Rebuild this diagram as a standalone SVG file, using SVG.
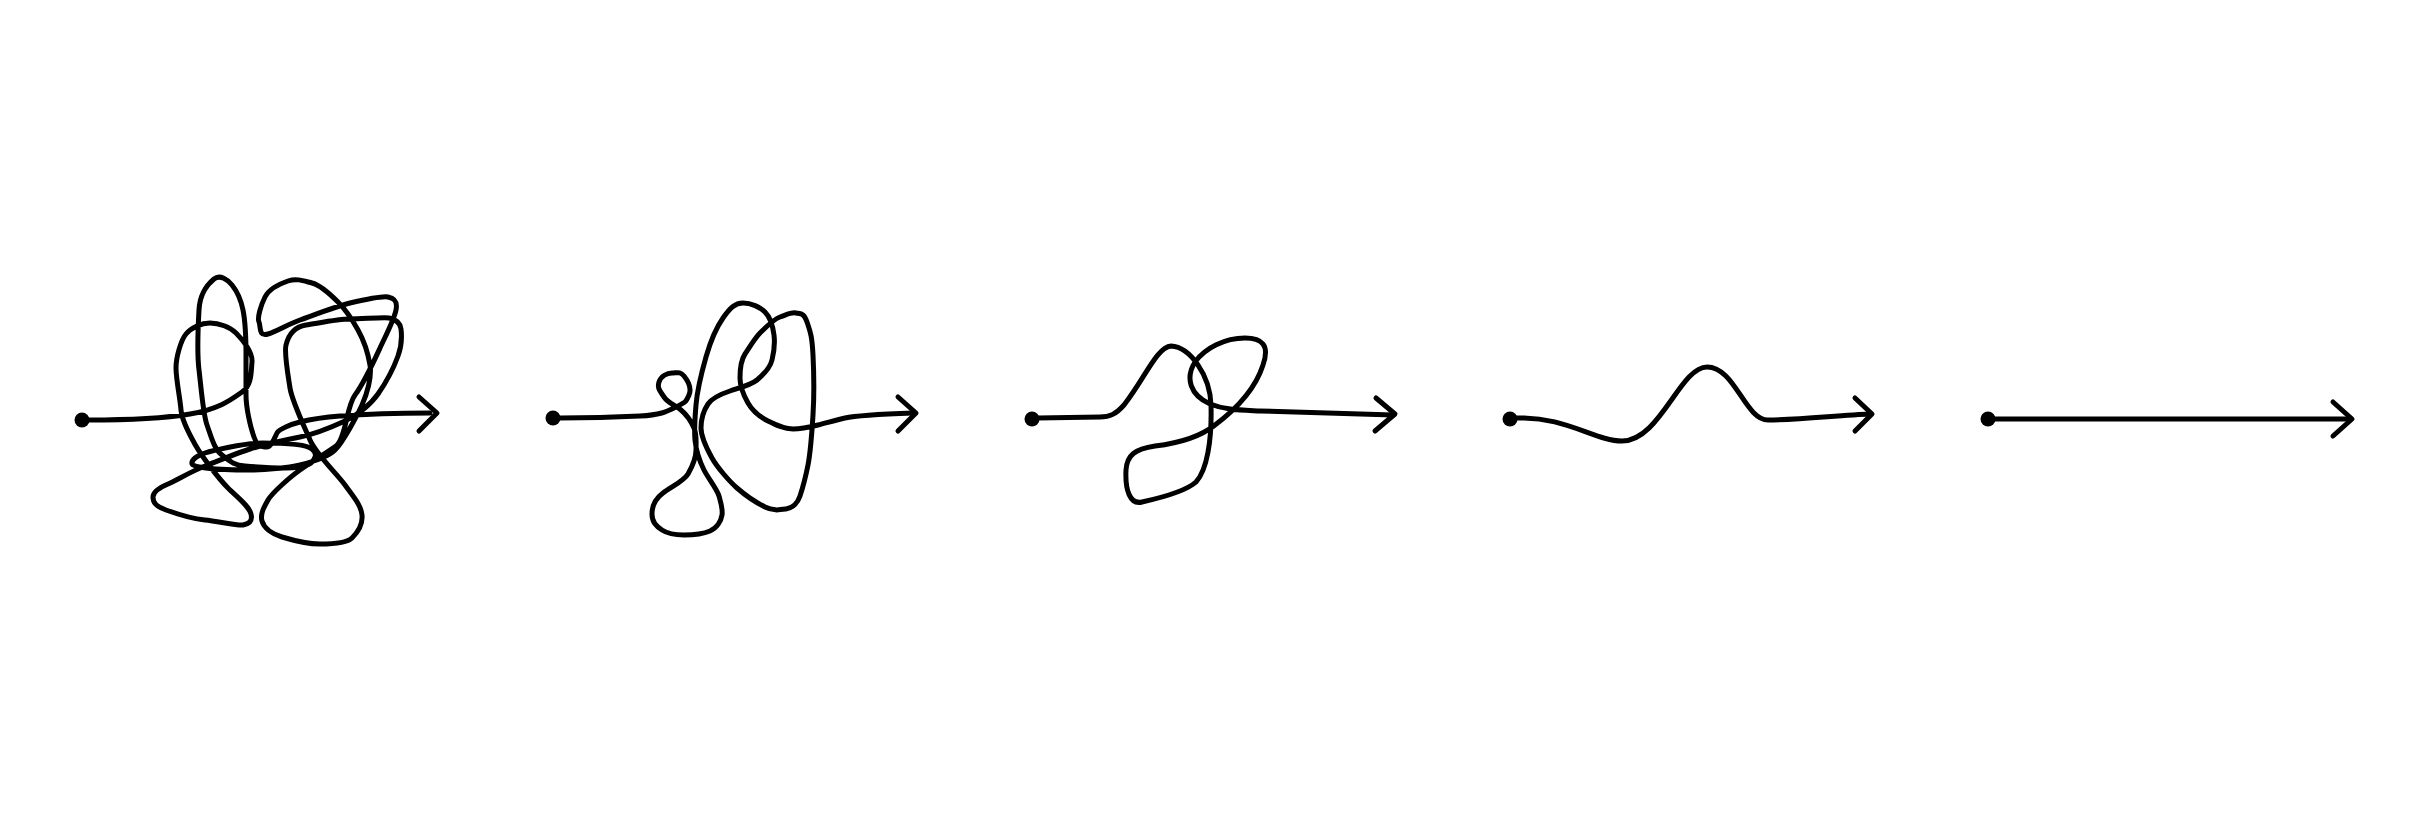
<svg xmlns="http://www.w3.org/2000/svg" width="2436" height="813" viewBox="0 0 2436 813">
<style>
.ln{fill:none;stroke:#000;stroke-width:5;stroke-linecap:round;stroke-linejoin:round}
.dot{fill:#000}
</style>
<rect width="2436" height="813" fill="#fff"/>
<g id="path-tangled">
<circle class="dot" cx="82" cy="420" r="7.5"/>
<path class="ln" d="M88,420 C125,420 160,419 190,414 S232,399 242,392 S251,372 252,362 S242,339 236,333 S219,323 210,323 S191,328 186,334 S176,357 176,368 S180,398 181,410 S191,437 196,446 S218,478 228,488 S249,506 251,514 S248,524 243,525 S217,521 205,520 S177,514 166,510 S153,502 153,497 S161,487 168,484 S194,470 205,466 S237,453 250,449 S285,440 300,437 S332,427 345,421 S371,404 378,394 S394,367 398,356 S402,337 401,329 S394,319 389,318 S362,319 350,319 S319,323 306,325 S288,337 286,345 S288,375 290,388 S304,426 310,440 S337,474 345,485 S361,505 362,515 S357,533 352,538 S330,544 320,544 S292,540 282,537 S264,528 262,521 S264,507 268,500 S290,477 300,470 S326,453 336,446 S346,407 355,395 S374,361 380,348 S394,320 396,310 S393,298 388,297 S363,300 350,303 S314,315 300,320 S278,331 268,334 S261,326 259,322 S261,305 265,297 S279,284 288,281 S304,281 312,283 S332,296 338,302 S353,321 358,330 S368,353 370,365 S367,394 362,405 S343,442 335,450 S312,462 300,465 S265,470 250,470 S193,469 192,464 S199,455 205,453 S244,443 262,443 S306,444 312,449 S315,458 312,462 S294,468 285,468 S257,467 245,466 S230,461 222,455 S211,436 207,425 S201,386 199,370 S198,328 199,310 S208,284 214,279 S228,280 232,285 S241,300 243,310 S246,340 246,355 S246,383 246,395 S250,426 254,437 S261,446 266,447 S275,437 277,433 S292,424 300,422 S327,417 340,416 S390,413 430,413"/>
<polyline class="ln" points="419,397 437,413 419,431"/>
</g>
<g id="path-loops">
<circle class="dot" cx="553" cy="418" r="7.5"/>
<path class="ln" d="M560,418 C590,418 620,417 640,416 S666,412 676,407 S686,402 689,395 S688,381 684,376 S677,373 672,373 S661,376 659,382 S660,391 664,397 S675,405 681,410 S691,421 694,428 S696,443 696,450 S692,467 688,474 S671,487 663,493 S652,506 652,514 S656,526 662,530 S676,535 684,535 S703,534 710,531 S721,521 722,515 S721,503 719,496 S708,478 704,470 S696,450 695,440 S695,417 696,405 S702,371 706,357 S716,328 723,318 S735,303 743,303 S760,307 765,312 S773,327 774,335 S774,352 772,360 S763,375 757,380 S739,388 730,391 S712,398 708,404 S701,420 701,428 S707,449 712,458 S729,481 737,488 S757,503 765,507 S779,510 786,509 S798,502 800,496 S806,475 808,465 S812,431 813,415 S814,375 813,355 S810,331 807,322 S801,314 796,313 S786,315 780,317 S765,328 760,333 S749,348 745,354 S740,370 740,378 S744,396 748,403 S760,417 768,421 S784,429 793,429 S810,427 818,425 S836,420 845,418 S885,414 913,413"/>
<polyline class="ln" points="898,397 916,413 898,431"/>
</g>
<g id="path-one-loop">
<circle class="dot" cx="1032" cy="419" r="7.5"/>
<path class="ln" d="M1038,418 L1100,417 C1110,417 1116,414 1124,405 C1145,378 1157,347 1171,346 C1190,347 1210,375 1211,405 C1212,440 1207,470 1196,482 C1185,492 1160,498 1142,502 C1130,505 1125,490 1126,470 C1127,455 1135,449 1155,446 C1180,443 1200,437 1215,425 C1235,410 1255,390 1263,365 C1270,345 1262,338 1245,338 C1225,338 1205,348 1195,362 C1185,378 1190,395 1210,404 C1225,410 1240,410 1260,411 L1393,415"/>
<polyline class="ln" points="1376,398 1395,414 1375,431"/>
</g>
<g id="path-wave">
<circle class="dot" cx="1510" cy="419" r="7.5"/>
<path class="ln" d="M1516,418 C1565,416 1595,441 1622,441 C1660,441 1680,367 1707,367 C1735,367 1745,420 1768,420 C1800,420 1840,415 1871,414"/>
<polyline class="ln" points="1855,398 1872,414 1855,431"/>
</g>
<g id="path-straight">
<circle class="dot" cx="1988" cy="419" r="7.5"/>
<path class="ln" d="M1994,419 L2350,419"/>
<polyline class="ln" points="2333,402 2352,419 2333,436"/>
</g>
</svg>
